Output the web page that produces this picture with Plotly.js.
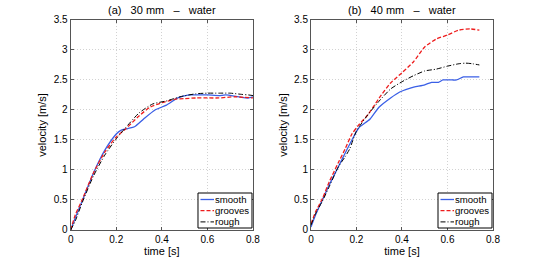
<!DOCTYPE html>
<html><head><meta charset="utf-8">
<script src="https://cdn.plot.ly/plotly-3.0.1.min.js"></script>
<style>body{margin:0;background:#fff}#chart{width:545px;height:259px}</style>
</head><body><div id="chart"></div>
<script>
// Panel (a) 30 mm - water
const tA_smooth = [0,0.02,0.05,0.1,0.15,0.2,0.22,0.25,0.28,0.32,0.37,0.42,0.47,0.52,0.56,0.6,0.65,0.68,0.72,0.75,0.78,0.8];
const vA_smooth = [0,0.2,0.48,0.95,1.33,1.6,1.66,1.69,1.72,1.85,2.0,2.08,2.2,2.25,2.25,2.25,2.24,2.25,2.23,2.21,2.2,2.22];
const tA_grooves = [0,0.02,0.05,0.1,0.15,0.2,0.24,0.3,0.35,0.4,0.46,0.5,0.55,0.6,0.65,0.72,0.76,0.8];
const vA_grooves = [0,0.25,0.5,0.95,1.3,1.55,1.68,1.9,2.05,2.12,2.18,2.19,2.2,2.2,2.2,2.22,2.21,2.2];
const tA_rough = [0,0.02,0.05,0.1,0.15,0.2,0.24,0.3,0.36,0.42,0.48,0.55,0.6,0.65,0.7,0.75,0.78,0.8];
const vA_rough = [0,0.15,0.45,0.9,1.25,1.52,1.7,1.95,2.1,2.15,2.22,2.27,2.28,2.28,2.28,2.26,2.25,2.24];
// Panel (b) 40 mm - water
const tB_smooth = [0,0.02,0.05,0.08,0.12,0.15,0.18,0.21,0.26,0.3,0.35,0.39,0.44,0.5,0.53,0.56,0.58,0.62,0.64,0.67,0.7,0.74];
const vB_smooth = [0.05,0.25,0.5,0.75,1.05,1.28,1.5,1.7,1.85,2.05,2.2,2.3,2.37,2.42,2.46,2.46,2.5,2.5,2.5,2.55,2.55,2.55];
const tB_grooves = [0,0.02,0.05,0.08,0.12,0.15,0.18,0.21,0.25,0.3,0.35,0.4,0.45,0.5,0.55,0.6,0.65,0.7,0.74];
const vB_grooves = [0.1,0.3,0.52,0.8,1.12,1.35,1.6,1.75,1.92,2.2,2.45,2.62,2.8,3.05,3.18,3.25,3.33,3.35,3.33];
const tB_rough = [0,0.02,0.05,0.08,0.12,0.15,0.17,0.2,0.25,0.3,0.35,0.4,0.45,0.5,0.55,0.6,0.65,0.68,0.71,0.74];
const vB_rough = [0.08,0.27,0.48,0.72,1.05,1.22,1.35,1.65,1.92,2.15,2.35,2.47,2.57,2.65,2.68,2.73,2.77,2.78,2.77,2.75];
const seriesNames = ["smooth","grooves","rough"];
const titles = ["(a)\u00a0\u00a0\u00a030 mm\u00a0\u00a0\u00a0\u2013\u00a0\u00a0\u00a0water","(b)\u00a0\u00a0\u00a040 mm\u00a0\u00a0\u00a0\u2013\u00a0\u00a0\u00a0water"];
const xTicks = [0,0.2,0.4,0.6,0.8];
const yTicks = [0,0.5,1,1.5,2,2.5,3,3.5];

const W = 545, H = 259;
const styles = [
  {color:'#3a5fe6', width:1.3, dash:'solid'},
  {color:'#ee1c1c', width:1.3, dash:'4px,2px'},
  {color:'#000000', width:1.0, dash:'5px,2px,1px,2px'}
];
const dataA = [[tA_smooth,vA_smooth],[tA_grooves,vA_grooves],[tA_rough,vA_rough]];
const dataB = [[tB_smooth,vB_smooth],[tB_grooves,vB_grooves],[tB_rough,vB_rough]];
const traces = [];
dataA.forEach((d,i)=>traces.push({x:d[0],y:d[1],name:seriesNames[i],mode:'lines',showlegend:false,line:Object.assign({shape:'spline',smoothing:0.6},styles[i]),xaxis:'x',yaxis:'y'}));
dataB.forEach((d,i)=>traces.push({x:d[0],y:d[1],name:seriesNames[i],mode:'lines',showlegend:false,line:Object.assign({shape:'spline',smoothing:0.6},styles[i]),xaxis:'x2',yaxis:'y2'}));

const font = {family:'Liberation Sans, Arial, sans-serif', size:10, color:'#000'};
function xax(domain, anchor){return {domain:domain, anchor:anchor, range:[0,0.8], tickvals:xTicks, ticktext:xTicks.map(String),
  showline:true, mirror:'ticks', linecolor:'#555', linewidth:1, ticks:'inside', ticklen:3, tickcolor:'#555',
  showgrid:true, gridcolor:'#d2d2d2', griddash:'1px,2px', gridwidth:1, zeroline:false, tickfont:font,
  title:{text:'time [s]', font:{family:font.family,size:11,color:'#000'}, standoff:2}};}
function yax(anchor){return {domain:[0.112,0.923], anchor:anchor, range:[0,3.5], tickvals:yTicks, ticktext:yTicks.map(String),
  showline:true, mirror:'ticks', linecolor:'#555', linewidth:1, ticks:'inside', ticklen:3, tickcolor:'#555',
  showgrid:true, gridcolor:'#d2d2d2', griddash:'1px,2px', gridwidth:1, zeroline:false, tickfont:font,
  title:{text:'velocity [m/s]', font:{family:font.family,size:11,color:'#000'}, standoff:4}};}

const domains = [[0.1297,0.4642],[0.5706,0.9046]];
// compact legend boxes (in pixels relative to each panel's right edge / bottom)
const shapes = [], annotations = [];
domains.forEach((dom, p)=>{
  const right = dom[1]*W;
  const bx0 = right-55, bx1 = right-1, by0 = 193, by1 = 228;
  shapes.push({type:'rect', xref:'paper', yref:'paper', x0:bx0/W, x1:bx1/W, y0:1-by1/H, y1:1-by0/H,
    line:{color:'#000', width:1}, fillcolor:'#fff', layer:'above'});
  seriesNames.forEach((nm,i)=>{
    const yy = 199.5 + i*11.2;
    shapes.push({type:'line', xref:'paper', yref:'paper', x0:(bx0+2.5)/W, x1:(bx0+16)/W, y0:1-yy/H, y1:1-yy/H,
      line:{color:styles[i].color, width:styles[i].width, dash:styles[i].dash}, layer:'above'});
    annotations.push({text:nm, xref:'paper', yref:'paper', x:(bx0+16)/W, y:1-yy/H, xanchor:'left', yanchor:'middle',
      showarrow:false, font:{family:font.family,size:9.6,color:'#000'}, borderpad:0});
  });
  annotations.push({text:titles[p], xref:'paper', yref:'paper', x:(dom[0]+dom[1])/2, y:1-9.5/H, xanchor:'center', yanchor:'middle',
    showarrow:false, font:{family:font.family,size:11,color:'#000'}});
});

const layout = {
  width:W, height:H, margin:{l:0,r:0,t:0,b:0}, paper_bgcolor:'#fff', plot_bgcolor:'#fff',
  font:font, showlegend:false,
  xaxis:xax(domains[0],'y'), yaxis:yax('x'),
  xaxis2:xax(domains[1],'y2'), yaxis2:yax('x2'),
  shapes:shapes, annotations:annotations
};
Plotly.newPlot('chart', traces, layout, {staticPlot:true, displayModeBar:false});
</script></body></html>
